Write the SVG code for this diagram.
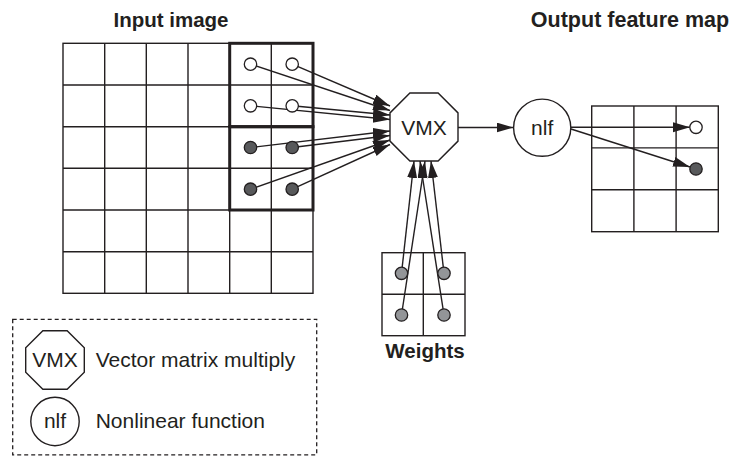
<svg xmlns="http://www.w3.org/2000/svg" width="732" height="456" viewBox="0 0 732 456">
<style>
  .grid { fill: none; stroke: #231f20; stroke-width: 1.4; }
  .thick { fill: none; stroke: #231f20; stroke-width: 3; }
  .shape { fill: #fff; stroke: #231f20; stroke-width: 1.4; }
  .cw { fill: #fff; stroke: #231f20; stroke-width: 1.3; }
  .cd { fill: #58595b; stroke: #231f20; stroke-width: 1.3; }
  .cg { fill: #939598; stroke: #231f20; stroke-width: 1.3; }
  .conn { fill: none; stroke: #231f20; stroke-width: 1.4; marker-end: url(#ah); }
  .title { font-family: "Liberation Sans", Arial, sans-serif; font-weight: bold; font-size: 20.5px; fill: #231f20; }
  .lbl { font-family: "Liberation Sans", Arial, sans-serif; font-size: 21px; fill: #231f20; }
  .legend { fill: none; stroke: #231f20; stroke-width: 1.3; stroke-dasharray: 4 3; }
</style>
<defs>
  <marker id="ah" markerUnits="userSpaceOnUse" markerWidth="18" markerHeight="11" refX="17" refY="5" orient="auto">
    <path d="M0,0 L17,5 L0,10 z" fill="#231f20"/>
  </marker>
</defs>

<!-- Titles -->
<text class="title" x="171" y="27" text-anchor="middle">Input image</text>
<text class="title" x="630" y="27" text-anchor="middle" style="font-size:21.5px">Output feature map</text>
<text class="title" x="425" y="358" text-anchor="middle">Weights</text>

<!-- Input image grid -->
<g id="input-image">
  <rect class="grid" x="63" y="43.3" width="250" height="250"/>
  <path class="grid" d="M104.7,43.3V293.3M146.3,43.3V293.3M188,43.3V293.3M229.7,43.3V293.3M271.3,43.3V293.3
                        M63,85H313M63,126.7H313M63,168.3H313M63,210H313M63,251.7H313"/>
  <rect class="thick" x="229.7" y="43.3" width="83.3" height="83.4"/>
  <rect class="thick" x="229.7" y="126.7" width="83.3" height="83.3"/>
</g>

<!-- Weights grid -->
<g id="weights">
  <rect class="grid" x="382" y="252.7" width="83" height="83"/>
  <path class="grid" d="M423.3,252.7V335.7M382,294.2H465"/>
</g>

<!-- Output feature map grid -->
<g id="output-feature-map">
  <rect class="grid" x="591.7" y="106" width="126.6" height="125.7"/>
  <path class="grid" d="M633.9,106V231.7M676.1,106V231.7M591.7,147.9H718.3M591.7,189.8H718.3"/>
</g>

<!-- Connectors -->
<g id="connectors">
  <line class="conn" x1="292.2" y1="64.2" x2="390" y2="106"/>
  <line class="conn" x1="250.5" y1="64.2" x2="390" y2="110.5"/>
  <line class="conn" x1="292.2" y1="105.8" x2="390" y2="115"/>
  <line class="conn" x1="250.5" y1="105.8" x2="390" y2="119.5"/>
  <line class="conn" x1="250.5" y1="147.5" x2="390" y2="131"/>
  <line class="conn" x1="292.2" y1="147.5" x2="390" y2="135.5"/>
  <line class="conn" x1="250.5" y1="189.2" x2="390" y2="140"/>
  <line class="conn" x1="292.2" y1="189.2" x2="390" y2="144.5"/>

  <line class="conn" x1="401.5" y1="273.3" x2="414" y2="161"/>
  <line class="conn" x1="444" y1="315" x2="420" y2="161"/>
  <line class="conn" x1="401.5" y1="315" x2="425" y2="161"/>
  <line class="conn" x1="444" y1="273.3" x2="431" y2="161"/>

  <line class="conn" x1="458" y1="127.5" x2="513.5" y2="127.5"/>
  <line class="conn" x1="571" y1="127.3" x2="690" y2="127.3"/>
  <line class="conn" x1="571" y1="129" x2="690" y2="167"/>
</g>

<!-- Input circles -->
<g id="input-values">
  <circle class="cw" cx="250.5" cy="64.2" r="6.2"/>
  <circle class="cw" cx="292.2" cy="64.2" r="6.2"/>
  <circle class="cw" cx="250.5" cy="105.8" r="6.2"/>
  <circle class="cw" cx="292.2" cy="105.8" r="6.2"/>
  <circle class="cd" cx="250.5" cy="147.5" r="6.2"/>
  <circle class="cd" cx="292.2" cy="147.5" r="6.2"/>
  <circle class="cd" cx="250.5" cy="189.2" r="6.2"/>
  <circle class="cd" cx="292.2" cy="189.2" r="6.2"/>
</g>

<g id="weight-values">
  <circle class="cg" cx="401.5" cy="273.3" r="6.2"/>
  <circle class="cg" cx="444" cy="273.3" r="6.2"/>
  <circle class="cg" cx="401.5" cy="315" r="6.2"/>
  <circle class="cg" cx="444" cy="315" r="6.2"/>
</g>

<g id="output-values">
  <circle class="cw" cx="696" cy="127.3" r="6.2"/>
  <circle class="cd" cx="696" cy="169" r="6.2"/>
</g>

<!-- VMX node -->
<g id="vmx">
  <polygon class="shape" points="409.9,93 438.1,93 458,112.9 458,141.1 438.1,161 409.9,161 390,141.1 390,112.9"/>
  <text class="lbl" x="424" y="134.5" text-anchor="middle">VMX</text>
</g>

<!-- nlf node -->
<g id="nlf">
  <circle class="shape" cx="542.2" cy="127.7" r="28.6"/>
  <text class="lbl" x="542.2" y="134.5" text-anchor="middle">nlf</text>
</g>

<!-- Legend -->
<g id="legend">
  <rect class="legend" x="12.7" y="319.3" width="304" height="135.5"/>
  <polygon class="shape" points="42.85,330.7 67.15,330.7 84.3,347.85 84.3,372.15 67.15,389.3 42.85,389.3 25.7,372.15 25.7,347.85"/>
  <text class="lbl" x="55" y="367.3" text-anchor="middle">VMX</text>
  <text class="lbl" x="95.7" y="367.3">Vector matrix multiply</text>
  <circle class="shape" cx="55" cy="421.5" r="24.2"/>
  <text class="lbl" x="55" y="428" text-anchor="middle">nlf</text>
  <text class="lbl" x="95.7" y="428">Nonlinear function</text>
</g>
</svg>
